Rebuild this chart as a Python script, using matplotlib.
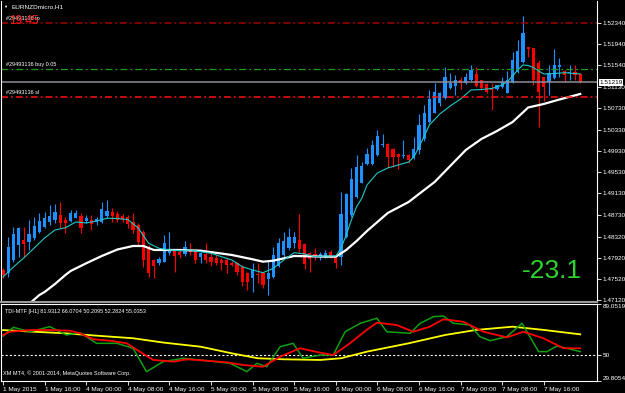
import numpy as np
import matplotlib.pyplot as plt
from matplotlib import transforms

# ---- datos (EURNZDmicro, H1) ----
opens = [1.47691, 1.47629, 1.47879, 1.48161, 1.48255, 1.48223, 1.48287, 1.48411, 1.48505, 1.48588,
         1.48631, 1.48725, 1.48631, 1.48612, 1.48674, 1.48712, 1.48612, 1.48631, 1.48588, 1.48588,
         1.48712, 1.48776, 1.48738, 1.48712, 1.48693, 1.48599, 1.48537, 1.48411, 1.48129, 1.47879,
         1.47828, 1.47847, 1.48016, 1.48054, 1.48035, 1.47992, 1.48067, 1.48035, 1.47941, 1.47992,
         1.47941, 1.47911, 1.47879, 1.47879, 1.47828, 1.47817, 1.47753, 1.47629, 1.47535, 1.47616,
         1.47635, 1.47516, 1.47565, 1.47766, 1.47973, 1.48099, 1.48193, 1.48255, 1.48180, 1.48005,
         1.47992, 1.47954, 1.47954, 1.48035, 1.47941, 1.47941, 1.48317, 1.48725, 1.49058, 1.49332,
         1.49684, 1.49684, 1.49853, 1.50035, 1.50060, 1.49960, 1.49872, 1.49834, 1.49853, 1.49791,
         1.49947, 1.50148, 1.50479, 1.50648, 1.50825, 1.50919, 1.51107, 1.51150, 1.51263, 1.51201,
         1.51263, 1.51370, 1.51263, 1.51188, 1.51107, 1.51088, 1.51126, 1.51024, 1.51231, 1.51419,
         1.51607, 1.51878, 1.51859, 1.51588, 1.51325, 1.51231, 1.51295, 1.51502, 1.51438, 1.51400,
         1.51419, 1.51370]
highs = [1.47723, 1.48317, 1.48505, 1.48505, 1.48494, 1.48631, 1.48693, 1.48757, 1.48787, 1.48913,
         1.48926, 1.48964, 1.48693, 1.48819, 1.48819, 1.48757, 1.48725, 1.48725, 1.48693, 1.48975,
         1.49007, 1.48851, 1.48800, 1.48744, 1.48725, 1.48757, 1.48569, 1.48443, 1.48161, 1.47892,
         1.47941, 1.48349, 1.48411, 1.48067, 1.48067, 1.48236, 1.48193, 1.48067, 1.48035, 1.48193,
         1.48005, 1.47973, 1.47911, 1.47911, 1.47860, 1.47847, 1.47785, 1.47659, 1.47823, 1.47823,
         1.47653, 1.47879, 1.48123, 1.48293, 1.48411, 1.48481, 1.48411, 1.48744, 1.48199, 1.48035,
         1.48105, 1.48035, 1.48067, 1.48067, 1.47973, 1.49163, 1.49139, 1.49609, 1.49853, 1.49727,
         1.49979, 1.50135, 1.50323, 1.50248, 1.50079, 1.49985, 1.49891, 1.50135, 1.49872, 1.50197,
         1.50624, 1.50793, 1.51075, 1.51201, 1.51043, 1.51502, 1.51400, 1.51357, 1.51314, 1.51389,
         1.51545, 1.51502, 1.51263, 1.51212, 1.51201, 1.51169, 1.51325, 1.51438, 1.51795, 1.52015,
         1.52466, 1.51889, 1.51870, 1.51639, 1.51325, 1.51545, 1.51840, 1.51671, 1.51451, 1.51545,
         1.51545, 1.51389]
lows = [1.47546, 1.47565, 1.47847, 1.47941, 1.47941, 1.48067, 1.48255, 1.48381, 1.48475, 1.48537,
        1.48569, 1.48475, 1.48381, 1.48599, 1.48663, 1.48381, 1.48575, 1.48443, 1.48537, 1.48569,
        1.48663, 1.48599, 1.48599, 1.48599, 1.48475, 1.48381, 1.48161, 1.47753, 1.47565, 1.47535,
        1.47785, 1.47847, 1.47973, 1.47659, 1.47911, 1.47954, 1.47973, 1.47817, 1.47828, 1.47817,
        1.47766, 1.47785, 1.47691, 1.47640, 1.47766, 1.47597, 1.47390, 1.47315, 1.47283, 1.47447,
        1.47353, 1.47221, 1.47541, 1.47747, 1.47941, 1.48067, 1.48099, 1.48035, 1.47704, 1.47659,
        1.47879, 1.47879, 1.47917, 1.47911, 1.47723, 1.47785, 1.48293, 1.48693, 1.49045, 1.49321,
        1.49665, 1.49665, 1.49834, 1.50009, 1.49633, 1.49633, 1.49584, 1.49797, 1.49697, 1.49778,
        1.49872, 1.50122, 1.50460, 1.50637, 1.50774, 1.50900, 1.51088, 1.50981, 1.51088, 1.51188,
        1.51250, 1.51137, 1.51075, 1.51013, 1.50699, 1.51075, 1.51107, 1.51024, 1.51212, 1.51389,
        1.51588, 1.51701, 1.51169, 1.50374, 1.50874, 1.50981, 1.51276, 1.51325, 1.51231, 1.51263,
        1.51263, 1.51212]
closes = [1.47597, 1.48129, 1.48362, 1.48475, 1.48174, 1.48362, 1.48524, 1.48612, 1.48663, 1.48712,
          1.48787, 1.48569, 1.48569, 1.48757, 1.48757, 1.48475, 1.48663, 1.48550, 1.48650, 1.48838,
          1.48800, 1.48712, 1.48631, 1.48631, 1.48556, 1.48443, 1.48223, 1.47879, 1.47629, 1.47766,
          1.47892, 1.48193, 1.48067, 1.47954, 1.47973, 1.48129, 1.48035, 1.47879, 1.48005, 1.47879,
          1.47847, 1.47817, 1.47828, 1.47785, 1.47785, 1.47659, 1.47471, 1.47471, 1.47691, 1.47597,
          1.47409, 1.47640, 1.47973, 1.48193, 1.48242, 1.48306, 1.48306, 1.48080, 1.47804, 1.47892,
          1.47954, 1.47992, 1.48016, 1.47941, 1.47817, 1.48738, 1.49120, 1.49396, 1.49622, 1.49646,
          1.49872, 1.50041, 1.50210, 1.50060, 1.49821, 1.49810, 1.49821, 1.49853, 1.49759, 1.49966,
          1.50417, 1.50648, 1.50900, 1.51043, 1.51013, 1.51314, 1.51212, 1.51263, 1.51201, 1.51325,
          1.51451, 1.51150, 1.51107, 1.51043, 1.51075, 1.51169, 1.51231, 1.51263, 1.51639, 1.51814,
          1.52152, 1.51840, 1.51263, 1.51043, 1.51137, 1.51400, 1.51545, 1.51545, 1.51357, 1.51419,
          1.51357, 1.51219]

# media rapida (cian) y lenta (blanca)
ma_fast_idx = [0, 2, 4, 6, 8, 10, 12, 14, 16, 18, 20, 22, 24, 26, 28, 30, 32, 34, 36, 38, 40, 42, 44,
               46, 48, 50, 52, 54, 56, 58, 60, 62, 64, 65, 66, 67, 68, 69, 70, 72, 74, 76, 78, 79, 80,
               81, 82, 84, 86, 88, 90, 92, 94, 96, 97, 98, 99, 100, 101, 102, 103, 104, 106, 108, 110, 111]
ma_fast = [1.47559, 1.47747, 1.47917, 1.48105, 1.48293, 1.48443, 1.48486, 1.48593, 1.48575, 1.48612,
           1.48663, 1.48659, 1.48640, 1.48481, 1.48193, 1.48099, 1.48067, 1.48054, 1.48067, 1.48035,
           1.48005, 1.47941, 1.47879, 1.47753, 1.47691, 1.47640, 1.47723, 1.47879, 1.48016, 1.47992,
           1.47941, 1.47954, 1.47954, 1.48099, 1.48349, 1.48631, 1.48881, 1.49039, 1.49289, 1.49515,
           1.49609, 1.49665, 1.49721, 1.49815, 1.50003, 1.50210, 1.50417, 1.50624, 1.50774, 1.50906,
           1.51075, 1.51084, 1.51103, 1.51169, 1.51231, 1.51338, 1.51451, 1.51545, 1.51536, 1.51498,
           1.51432, 1.51376, 1.51385, 1.51400, 1.51385, 1.51376]
ma_slow_idx = [5, 7, 8, 10, 12, 13, 16, 19, 22, 25, 27, 29, 34, 38, 44, 48, 50, 52, 56, 62, 64, 66,
               68, 70, 74, 78, 80, 83, 86, 89, 92, 95, 98, 101, 104, 107, 111]
ma_slow = [1.47050, 1.47221, 1.47277, 1.47428, 1.47597, 1.47672, 1.47817, 1.47954, 1.48076, 1.48142,
           1.48142, 1.48067, 1.48067, 1.48054, 1.47973, 1.47892, 1.47847, 1.47866, 1.47954, 1.47941,
           1.47941, 1.48067, 1.48236, 1.48424, 1.48763, 1.48969, 1.49120, 1.49345, 1.49646, 1.49947,
           1.50154, 1.50304, 1.50473, 1.50746, 1.50812, 1.50896, 1.51000]

# ordenes abiertas
tp_price = 1.52340
buy_price = 1.51464
sl_price = 1.50949
bid_price = 1.51219

price_ticks = [1.52340, 1.51940, 1.51540, 1.51130, 1.50730, 1.50330, 1.49930, 1.49530,
               1.49130, 1.48730, 1.48320, 1.47920, 1.47520, 1.47120]

# TDI
yel_idx = [0, 6, 12, 19, 25, 31, 38, 44, 49, 54, 61, 65, 70, 78, 85, 91, 98, 104, 111]
yel_val = [69.0, 67.7, 66.5, 64.4, 62.7, 59.3, 56.2, 51.1, 47.3, 46.5, 46.0, 47.3, 52.4, 58.8,
           65.2, 69.1, 71.6, 69.1, 65.7]
red_idx = [0, 1.3, 5.2, 9, 12.9, 14.8, 17.4, 20.6, 23.8, 26.3, 28.9, 32.8, 35.3, 39.2, 43, 46.2, 50,
           53.3, 57.1, 61, 63.5, 66.7, 69.9, 71.9, 75.7, 78.9, 82.1, 84.7, 88.5, 92.4, 96.9, 100.1,
           103.9, 107.8, 111]
red_val = [65.2, 67.7, 69.0, 69.0, 68.5, 66.5, 61.9, 60.8, 58.8, 52.4, 46.0, 44.7, 46.5, 45.4, 44.2,
           42.1, 40.8, 48.5, 55.0, 51.6, 49.8, 58.8, 69.0, 74.7, 72.9, 67.7, 71.6, 77.3, 75.4, 67.7,
           63.4, 67.7, 62.7, 55.0, 55.0]
grn_idx = [0, 2, 5.2, 9, 12.2, 14.8, 18, 21.9, 25, 27.6, 30.8, 34.7, 37.9, 43.7, 46.9, 48.8, 50.7,
           53.3, 55.8, 57.7, 61, 63.5, 65.8, 68.7, 71.9, 73.8, 78.3, 80.2, 82.8, 84.7, 86.6, 89.8,
           91.7, 93.7, 96.9, 99.8, 103, 104.6, 106.5, 108.4, 111]
grn_val = [64.4, 71.1, 67.7, 71.6, 65.2, 67.0, 58.8, 58.8, 55.0, 37.0, 44.7, 47.3, 46.0, 43.4, 37.0,
           43.4, 40.8, 56.2, 58.8, 47.3, 49.8, 49.8, 67.7, 74.2, 78.1, 67.7, 66.5, 74.2, 79.3, 79.8,
           74.2, 72.9, 63.9, 60.8, 63.9, 74.2, 52.4, 52.4, 56.7, 55.0, 52.4]
tdi_max = 89.0519
tdi_min = 29.8054

time_idx = [0, 8, 16, 24, 32, 40, 48, 56, 64, 72, 80, 88, 96, 104]
time_labels = ["1 May 2015", "1 May 16:00", "4 May 00:00", "4 May 08:00", "4 May 16:00",
               "5 May 00:00", "5 May 08:00", "5 May 16:00", "6 May 00:00", "6 May 08:00",
               "6 May 16:00", "7 May 00:00", "7 May 08:00", "7 May 16:00"]

# ---- figura ----
W, H = 625, 393
plt.rcParams['font.family'] = ['Liberation Sans', 'DejaVu Sans']
plt.rcParams['lines.scale_dashes'] = False
fig = plt.figure(figsize=(W / 100, H / 100), dpi=100, facecolor='black')


def px_axes(x0, y0, x1, y1):
    return fig.add_axes([x0 / W, 1 - y1 / H, (x1 - x0) / W, (y1 - y0) / H], facecolor='black')


ax = px_axes(1, 1, 597, 302)
ax2 = px_axes(1, 304, 597, 381)
xlim = (-0.385, 114.23)
fs = 4.6

# velas
o, h, l, c = map(np.array, (opens, highs, lows, closes))
idx = np.arange(len(o))
col = np.where(c >= o, '#1e90ff', '#ff0000')
ax.vlines(idx, l, h, colors=col, lw=0.8)
ax.bar(idx, np.maximum(np.abs(c - o), 0.00015), bottom=np.minimum(o, c), width=0.6,
       color=col, lw=0)

ax.plot(ma_slow_idx, ma_slow, color='white', lw=1.6)
ax.plot(ma_fast_idx, ma_fast, color='#20c8c8', lw=0.8)

dashdot = (0, (5, 2.2, 1.3, 2.2))
ax.axhline(tp_price, color='#a00000', lw=1.1, ls=dashdot)
ax.axhline(buy_price, color='#1e9a1e', lw=0.9, ls=dashdot)
ax.axhline(sl_price, color='#ff1010', lw=1.1, ls=dashdot)
ax.axhline(bid_price, color='#8c8f9a', lw=1.1)

bt = transforms.blended_transform_factory(ax.transAxes, ax.transData)
for p, t in [(tp_price, '#29493136 tp'), (buy_price, '#29493136 buy 0.05'), (sl_price, '#29493136 sl')]:
    ax.text(0.008, p + 0.0004, t, transform=bt, color='white', fontsize=4.0, va='bottom')

ax.set_xlim(*xlim)
ax.set_ylim(1.47089, 1.52748)
ax.yaxis.tick_right()
ax.set_yticks(price_ticks)
ax.set_yticklabels(['%.5f' % v for v in price_ticks])
ax.tick_params(axis='y', colors='white', labelsize=fs, length=3, width=0.6, pad=1)
ax.set_xticks([])
ax.text(1.004, bid_price, '%.5f' % bid_price, transform=bt, color='black', fontsize=fs,
        va='center', ha='left', bbox=dict(facecolor='white', edgecolor='none', pad=0.6))

for s in ['left', 'right']:
    ax.spines[s].set_color('white')
    ax.spines[s].set_linewidth(0.8)
ax.spines['top'].set_visible(False)
ax.spines['bottom'].set_color('#9a9a9a')
ax.spines['bottom'].set_linewidth(1.5)

# textos del grafico
fig.text(3 / W, 1 - 6.5 / H, '\u25bc', color='white', fontsize=3, va='center')
fig.text(11 / W, 1 - 6.5 / H, 'EURNZDmicro,H1', color='white', fontsize=fs, va='center')
fig.text(9 / W, 1 - 21 / H, '19:45', color='#ff1a1a', fontsize=8.5, va='center')
fig.text(552 / W, 1 - 271 / H, '-23.1', color='#2fd52f', fontsize=19, va='center', ha='center')

# TDI
ax2.axhline(50, color='white', lw=0.8, ls=(0, (1.5, 1.5)))
ax2.plot(yel_idx, yel_val, color='#ffff00', lw=1.3)
ax2.plot(grn_idx, grn_val, color='#10a010', lw=1.1)
ax2.plot(red_idx, red_val, color='#ff0000', lw=1.3)
ax2.set_xlim(*xlim)
ax2.set_ylim(tdi_min, tdi_max)
ax2.yaxis.tick_right()
ax2.set_yticks([tdi_min, 50, tdi_max])
ax2.set_yticklabels(['%.4f' % tdi_min, '50', '%.4f' % tdi_max])
labs = ax2.get_yticklabels()
labs[0].set_va('bottom')
labs[2].set_va('top')
ax2.tick_params(axis='y', colors='white', labelsize=fs, length=3, width=0.6, pad=1)
ax2.set_xticks(time_idx)
ax2.set_xticklabels(time_labels, ha='left')
ax2.tick_params(axis='x', colors='white', labelsize=fs, length=3, width=0.6, pad=1.5)
for s in ax2.spines.values():
    s.set_color('white')
    s.set_linewidth(0.8)

ax2.text(0.006, 0.93, 'TDI-MTF [H1] 81.9312 66.0704 50.2095 52.2824 55.0353',
         transform=ax2.transAxes, color='white', fontsize=4.0, va='top')
ax2.text(0.003, 0.06, 'XM MT4, \u00a9 2001-2014, MetaQuotes Software Corp.',
         transform=ax2.transAxes, color='white', fontsize=4.0, va='bottom')

fig.savefig('out.png', dpi=100, facecolor='black')
